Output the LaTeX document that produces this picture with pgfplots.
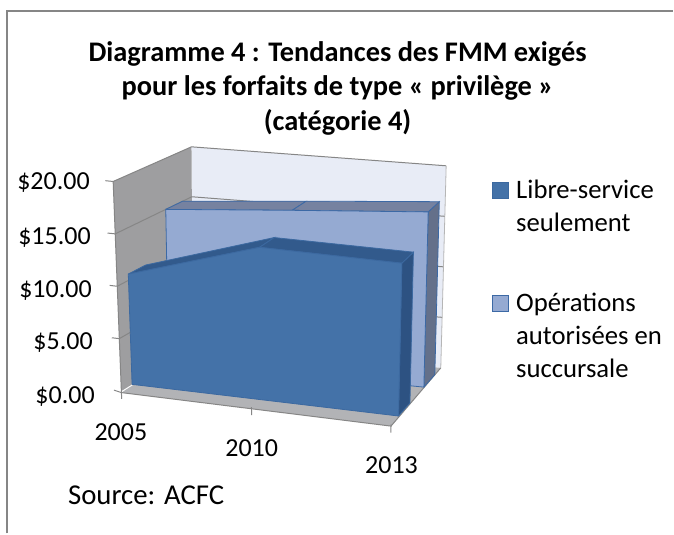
\documentclass[border=0pt]{standalone}
\usepackage{fontspec}
\setmainfont{Carlito}
\usepackage{pgfplots}
\pgfplotsset{compat=1.18}

% colours
\definecolor{darkfront}{RGB}{68,114,168}
\definecolor{darktop}{RGB}{50,90,140}
\definecolor{darkside}{RGB}{45,82,130}
\definecolor{darkedge}{RGB}{60,105,160}
\definecolor{lightfront}{RGB}{149,170,210}
\definecolor{lighttop}{RGB}{118,130,160}
\definecolor{lightside}{RGB}{100,112,138}
\definecolor{lightedge}{RGB}{60,105,165}
\definecolor{backwall}{RGB}{232,236,246}
\definecolor{sidewall}{RGB}{158,158,160}
\definecolor{floorgrey}{RGB}{178,179,182}
\definecolor{gridgrey}{RGB}{134,134,134}

% a face: t = year position (2005 at 0, 2010 at 0.965, 2013 at 2), d = depth (0..1), v = value in dollars
\newcommand{\face}[2]{\addplot[forget plot,#1] table[row sep=\\,
  x expr={px(\thisrow{t},\thisrow{d},\thisrow{v})},
  y expr={py(\thisrow{t},\thisrow{d},\thisrow{v})}] {t d v\\ #2};}

% one series: depth from, depth to, values 2005 2010 2013, front, top, side, edge
\newcommand{\series}[9]{%
  \face{fill=#8,draw=#9,line width=0.8pt}{2 #1 0\\ 2 #2 0\\ 2 #2 #5\\ 2 #1 #5\\ 2 #1 0\\}
  \face{fill=#7,draw=#9,line width=0.8pt}{0 #1 #3\\ 0 #2 #3\\ 0.965 #2 #4\\ 0.965 #1 #4\\ 0 #1 #3\\}
  \face{fill=#7,draw=#9,line width=0.8pt}{0.965 #1 #4\\ 0.965 #2 #4\\ 2 #2 #5\\ 2 #1 #5\\ 0.965 #1 #4\\}
  \face{fill=#6,draw=#9,line width=0.8pt}{0 #1 0\\ 0 #1 #3\\ 0.965 #1 #4\\ 2 #1 #5\\ 2 #1 0\\ 0 #1 0\\}
}
% a value gridline over the side wall and the back wall
\newcommand{\gridat}[1]{\face{draw=gridgrey,line width=1pt}{-0.055 0 #1\\ 0 0 #1\\ 0 1 #1\\ 2 1 #1\\}}

\begin{document}
\begin{tikzpicture}
\begin{axis}[
  scale only axis, width=674pt, height=534pt,
  xmin=0, xmax=674, ymin=0, ymax=534, y dir=reverse,
  hide axis, clip=false,
  declare function={
    px(\xa,\da,\va)=(1-\va/20)*((1-\da)*((1-\xa/2)*121.5+\xa/2*391.5)+\da*((1-\xa/2)*193+\xa/2*441.3))
      +\va/20*((1-\da)*((1-\xa/2)*113.3+\xa/2*396)+\da*((1-\xa/2)*191.7+\xa/2*446.7));
    py(\xa,\da,\va)=(1-\va/20)*((1-\da)*((1-\xa/2)*391.5+\xa/2*425)+\da*((1-\xa/2)*347+\xa/2*368.3))
      +\va/20*((1-\da)*((1-\xa/2)*181.7+\xa/2*210.7)+\da*((1-\xa/2)*147+\xa/2*166));
  },
  legend style={at={(axis cs:493,178)}, anchor=north west, draw=none, fill=none,
    inner sep=0pt, outer sep=0pt, row sep=89pt, column sep=5.5pt, cells={anchor=base west}},
  legend image code/.code={\draw[#1,line width=0.8pt] (0pt,0pt) rectangle (15.5pt,15.5pt);},
]
% canvas and chart frame
\addplot[forget plot,fill=white,draw=none] coordinates {(0,0) (674,0) (674,534) (0,534) (0,0)};
\addplot[forget plot,draw=gridgrey,line width=1.6pt] coordinates {(7,534) (7,11) (674,11)};

% walls and floor
\face{fill=backwall,draw=none}{0 1 0\\ 0 1 20\\ 2 1 20\\ 2 1 0\\ 0 1 0\\}
\face{fill=sidewall,draw=none}{0 0 0\\ 0 0 20\\ 0 1 20\\ 0 1 0\\ 0 0 0\\}
\face{fill=floorgrey,draw=none}{0 0 -0.15\\ 2 0 -0.15\\ 2 1 0\\ 0 1 0\\ 0 0 -0.15\\}
\gridat{5}
\gridat{10}
\gridat{15}
\gridat{20}
\face{draw=gridgrey,line width=1pt}{-0.055 0 0\\ 0 0 -0.15\\ 2 0 -0.15\\ 2 1 0\\}
\face{draw=gridgrey!60,line width=0.8pt}{2 1 0\\ 2 1 20\\}
\face{draw=gridgrey,line width=1pt}{0 0 0\\ 0 0 20\\}
% year ticks
\face{draw=gridgrey,line width=1pt}{0 0 0\\ 0 0 -0.75\\}
\face{draw=gridgrey,line width=1pt}{0.965 0 0\\ 0.965 0 -0.75\\}
\face{draw=gridgrey,line width=1pt}{2 0 0\\ 2 0 -0.75\\}

% data, back series first
\series{0.66}{0.88}{15}{16}{17}{lightfront}{lighttop}{lightside}{lightedge}
\series{0.15}{0.38}{10.6}{14.5}{14.4}{darkfront}{darktop}{darkside}{darkedge}

% legend keys, without data of their own
\addlegendimage{fill=darkfront,draw=darkedge}
\addlegendentry{\parbox[t]{150pt}{\fontsize{26.7}{33}\selectfont Libre-service\\seulement}}
\addlegendimage{fill=lightfront,draw=lightedge}
\addlegendentry{\parbox[t]{150pt}{\fontsize{26.7}{33}\selectfont Opérations\\autorisées en\\succursale}}

% title
\node[font=\fontsize{28.4}{34.5}\selectfont\bfseries, align=center, anchor=north]
  at (axis cs:338,38) {Diagramme 4 : Tendances des FMM exigés\\pour les forfaits de type « privilège »\\(catégorie 4)};

% value labels
\begin{scope}[font=\fontsize{26}{30}\selectfont]
\node[anchor=base east,inner sep=0pt] at (axis cs:90,190) {\$20.00};
\node[anchor=base east,inner sep=0pt] at (axis cs:91,245) {\$15.00};
\node[anchor=base east,inner sep=0pt] at (axis cs:92,298) {\$10.00};
\node[anchor=base east,inner sep=0pt] at (axis cs:93,350) {\$5.00};
\node[anchor=base east,inner sep=0pt] at (axis cs:95,404) {\$0.00};
\node[anchor=base,inner sep=0pt] at (axis cs:121,441) {2005};
\node[anchor=base,inner sep=0pt] at (axis cs:252,457) {2010};
\node[anchor=base,inner sep=0pt] at (axis cs:392,474) {2013};
\node[anchor=base west,inner sep=0pt,font=\fontsize{28.8}{30}\selectfont] at (axis cs:68,505) {Source: ACFC};
\end{scope}
\end{axis}
\end{tikzpicture}
\end{document}
